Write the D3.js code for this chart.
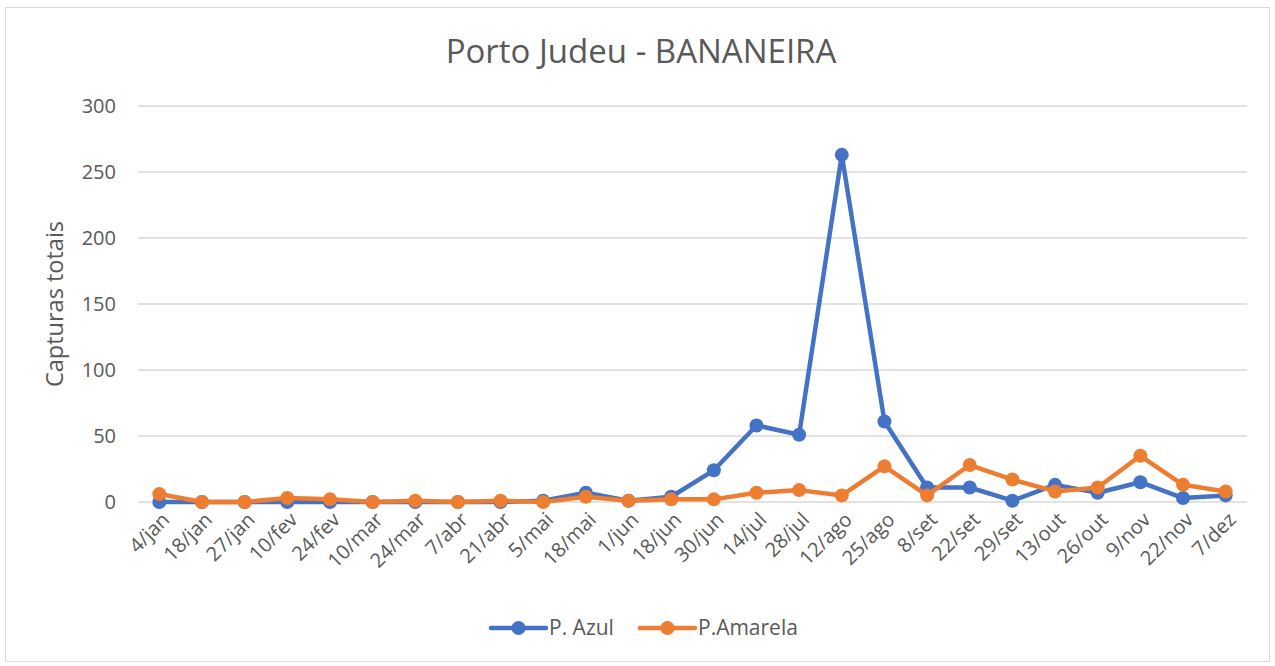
<!DOCTYPE html>
<html>
<head>
<meta charset="utf-8">
<script src="https://cdn.jsdelivr.net/npm/d3@7"></script>
<style>
  html, body { margin: 0; padding: 0; background: #fff; }
  svg { display: block; font-family: "Open Sans", sans-serif; }
</style>
</head>
<body>
<svg id="chart" width="1275" height="666"></svg>
<script>
const categories = ["4/jan","18/jan","27/jan","10/fev","24/fev","10/mar","24/mar","7/abr","21/abr","5/mai","18/mai","1/jun","18/jun","30/jun","14/jul","28/jul","12/ago","25/ago","8/set","22/set","29/set","13/out","26/out","9/nov","22/nov","7/dez"];
const azul = [0,0,0,0,0,0,0,0,0,1,7,1,4,24,58,51,263,61,11,11,1,13,7,15,3,5];
const amarela = [6,0,0,3,2,0,1,0,1,0,4,1,2,2,7,9,5,27,5,28,17,8,11,35,13,8];
const yTicks = [0,50,100,150,200,250,300];
const seriesNames = ["P. Azul","P.Amarela"];
const colors = ["#4472C4","#ED7D31"];
const FONT = "'Open Sans', sans-serif";

const svg = d3.select("#chart");
svg.append("rect").attr("x",5.5).attr("y",7.5).attr("width",1264).attr("height",654)
  .attr("fill","#fff").attr("stroke","#d9d9d9").attr("stroke-width",1);

const pLeft = 138, pRight = 1247, pTop = 106, pBottom = 502;
const x = d3.scalePoint().domain(categories).range([pLeft, pRight]).padding(0.5);
const y = d3.scaleLinear().domain([0,300]).range([pBottom, pTop]);

// gridlines
svg.append("g").selectAll("line").data(yTicks).join("line")
  .attr("x1",pLeft).attr("x2",pRight)
  .attr("y1",d=>y(d)).attr("y2",d=>y(d))
  .attr("stroke","#d9d9d9").attr("stroke-width",1.5);

// y axis
const yAxis = svg.append("g").attr("transform",`translate(${pLeft},0)`)
  .call(d3.axisLeft(y).tickValues(yTicks).tickSize(0).tickPadding(22));
yAxis.select(".domain").remove();
yAxis.selectAll("text").attr("fill","#595959").style("font-size","20px").style("font-family",FONT);

// x axis
const xAxis = svg.append("g").attr("transform",`translate(0,${pBottom})`)
  .call(d3.axisBottom(x).tickSize(0));
xAxis.select(".domain").remove();
xAxis.selectAll("text")
  .attr("fill","#595959").style("font-size","20px").style("font-family",FONT)
  .attr("text-anchor","end").attr("dy","0.35em").attr("y",0).attr("x",0)
  .attr("transform","translate(6,14) rotate(-45)");

// series
const data = [azul, amarela];
const line = d3.line().x((d,i)=>x(categories[i])).y(d=>y(d));
data.forEach((vals,k)=>{
  svg.append("path").datum(vals).attr("d",line)
    .attr("fill","none").attr("stroke",colors[k]).attr("stroke-width",4.5)
    .attr("stroke-linejoin","round").attr("stroke-linecap","round");
  svg.append("g").selectAll("circle").data(vals).join("circle")
    .attr("cx",(d,i)=>x(categories[i])).attr("cy",d=>y(d)).attr("r",7)
    .attr("fill",colors[k]);
});

// title
svg.append("text").attr("x",641).attr("y",63).attr("text-anchor","middle")
  .attr("fill","#595959").style("font-size","33px").style("font-family",FONT).text("Porto Judeu - BANANEIRA");

// y title
svg.append("text").attr("transform","translate(63,304) rotate(-90)")
  .attr("text-anchor","middle").attr("fill","#595959").style("font-size","23.5px").style("font-family",FONT)
  .text("Capturas totais");

// legend
const legendX = [491, 640];
seriesNames.forEach((n,k)=>{
  const g = svg.append("g").attr("transform",`translate(${legendX[k]},628)`);
  g.append("line").attr("x1",0).attr("x2",55).attr("y1",0).attr("y2",0)
    .attr("stroke",colors[k]).attr("stroke-width",4.5).attr("stroke-linecap","round");
  g.append("circle").attr("cx",27.5).attr("cy",0).attr("r",7).attr("fill",colors[k]);
  g.append("text").attr("x",58).attr("y",0).attr("dy","0.35em")
    .attr("fill","#595959").style("font-size","21px").style("font-family",FONT).text(n);
});
</script>
</body>
</html>
